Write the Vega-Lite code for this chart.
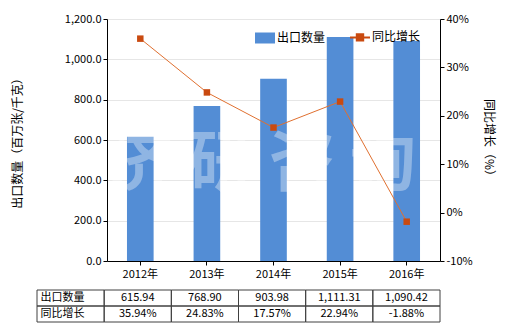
{
  "$schema": "https://vega.github.io/schema/vega-lite/v6.json",
  "padding": {"left": 11, "top": 13, "right": 5, "bottom": 5},
  "autosize": {"type": "pad"},
  "data": {"values": [
    {"year": "2012年", "qty": 615.94, "growth": 0.3594},
    {"year": "2013年", "qty": 768.90, "growth": 0.2483},
    {"year": "2014年", "qty": 903.98, "growth": 0.1757},
    {"year": "2015年", "qty": 1111.31, "growth": 0.2294},
    {"year": "2016年", "qty": 1090.42, "growth": -0.0188}
  ]},
  "spacing": 10,
  "vconcat": [
    {
      "width": 333,
      "height": 242,
      "layer": [
        {"layer": [
          {
            "mark": {"type": "bar", "width": {"band": 0.4}},
            "encoding": {
              "x": {"field": "year", "type": "nominal", "scale": {"paddingInner": 0, "paddingOuter": 0},
                    "axis": {"title": null, "labelAngle": 0, "tickSize": 4, "labelPadding": 3}},
              "y": {"field": "qty", "type": "quantitative", "scale": {"domain": [0, 1200], "nice": false},
                    "axis": {"title": "出口数量（百万张/千克）", "format": ",.1f", "values": [0, 200, 400, 600, 800, 1000, 1200],
                             "grid": true, "tickSize": 4, "labelPadding": 2, "titlePadding": 40}},
              "color": {"datum": "出口数量", "type": "nominal",
                        "scale": {"domain": ["出口数量", "同比增长"], "range": ["#538dd5", "#c94a10"]},
                        "legend": {"orient": "none", "legendX": 152, "legendY": 12, "direction": "horizontal", "title": null,
                                   "labelFontSize": 12, "labelColor": "#000", "symbolSize": 400, "labelOffset": 6,
                                   "columnPadding": 20, "padding": 0,
                                   "encode": {"symbols": {"update": {
                                     "shape": {"signal": "datum.value === '出口数量' ? 'M-1,-0.55H1V0.55H-1Z' : 'M-1,0H1M-0.32,-0.32H0.32V0.32H-0.32Z'"},
                                     "fill": {"signal": "datum.value === '出口数量' ? '#538dd5' : '#c94a10'"},
                                     "stroke": {"signal": "datum.value === '出口数量' ? '#538dd5' : '#c94a10'"},
                                     "strokeWidth": {"signal": "datum.value === '出口数量' ? 0 : 2"},
                                     "opacity": {"value": 1}
                                   }}}}}
            }
          },
          {
            "data": {"values": [{"wm": "济 研 咨 询"}]},
            "mark": {"type": "text", "font": "Noto Sans CJK SC", "fontSize": 66, "fontWeight": "bold", "fill": "#ffffff",
                     "opacity": 0.35, "dx": -12, "baseline": "middle", "align": "center"},
            "encoding": {
              "x": {"datum": "2014年", "type": "nominal"},
              "y": {"datum": 476, "type": "quantitative"},
              "text": {"field": "wm"}
            }
          }
        ]},
        {"layer": [
          {
            "mark": {"type": "line", "color": "#e07030", "strokeWidth": 1},
            "encoding": {
              "x": {"field": "year", "type": "nominal"},
              "y": {"field": "growth", "type": "quantitative", "scale": {"domain": [-0.1, 0.4], "nice": false},
                    "axis": {"orient": "right", "title": "同比增长（%）", "format": ".0%", "values": [-0.1, 0, 0.1, 0.2, 0.3, 0.4],
                             "grid": false, "tickSize": 4, "labelPadding": 2, "titlePadding": 9}}
            }
          },
          {
            "mark": {"type": "point", "shape": "square", "filled": true, "size": 42, "color": "#c94a10", "opacity": 1},
            "encoding": {
              "x": {"field": "year", "type": "nominal"},
              "y": {"field": "growth", "type": "quantitative"}
            }
          }
        ]}
      ],
      "resolve": {"scale": {"y": "independent"}}
    },
    {
      "width": 333,
      "height": 32,
      "layer": [
        {
          "mark": {"type": "rect", "filled": false, "color": "#404040", "strokeWidth": 1},
          "encoding": {
            "x": {"field": "year", "type": "nominal",
                  "scale": {"domain": ["指标", "2012年", "2013年", "2014年", "2015年", "2016年"], "range": [-70, 333], "paddingInner": 0, "paddingOuter": 0},
                  "axis": null},
            "y": {"datum": "出口数量", "type": "nominal",
                  "scale": {"domain": ["出口数量", "同比增长"], "paddingInner": 0, "paddingOuter": 0}, "axis": null}
          }
        },
        {
          "mark": {"type": "rect", "filled": false, "color": "#404040", "strokeWidth": 1},
          "encoding": {
            "x": {"field": "year", "type": "nominal"},
            "y": {"datum": "同比增长", "type": "nominal"}
          }
        },
        {
          "data": {"values": [{"row": "出口数量"}, {"row": "同比增长"}]},
          "mark": {"type": "rect", "filled": false, "color": "#404040", "strokeWidth": 1},
          "encoding": {
            "x": {"datum": "指标", "type": "nominal"},
            "y": {"field": "row", "type": "nominal"}
          }
        },
        {
          "data": {"values": [{"row": "出口数量"}, {"row": "同比增长"}]},
          "mark": {"type": "text", "align": "left", "dx": -30, "fontSize": 11, "color": "#000", "baseline": "middle"},
          "encoding": {
            "x": {"datum": "指标", "type": "nominal"},
            "y": {"field": "row", "type": "nominal"},
            "text": {"field": "row"}
          }
        },
        {
          "mark": {"type": "text", "fontSize": 11, "color": "#000", "baseline": "middle"},
          "encoding": {
            "x": {"field": "year", "type": "nominal"},
            "y": {"datum": "出口数量", "type": "nominal"},
            "text": {"field": "qty", "type": "quantitative", "format": ",.2f"}
          }
        },
        {
          "mark": {"type": "text", "fontSize": 11, "color": "#000", "baseline": "middle"},
          "encoding": {
            "x": {"field": "year", "type": "nominal"},
            "y": {"datum": "同比增长", "type": "nominal"},
            "text": {"field": "growth", "type": "quantitative", "format": ".2%"}
          }
        }
      ]
    }
  ],
  "config": {
    "font": "Noto Sans CJK SC",
    "view": {"stroke": null},
    "axis": {"labelFontSize": 11, "labelColor": "#000", "titleFontSize": 12, "titleFontWeight": "normal", "titleColor": "#000",
             "domainColor": "#000", "tickColor": "#000", "gridColor": "#e6e6e6"},
    "locale": {"number": {"decimal": ".", "thousands": ",", "grouping": [3], "currency": ["", ""], "minus": "-"}}
  }
}
